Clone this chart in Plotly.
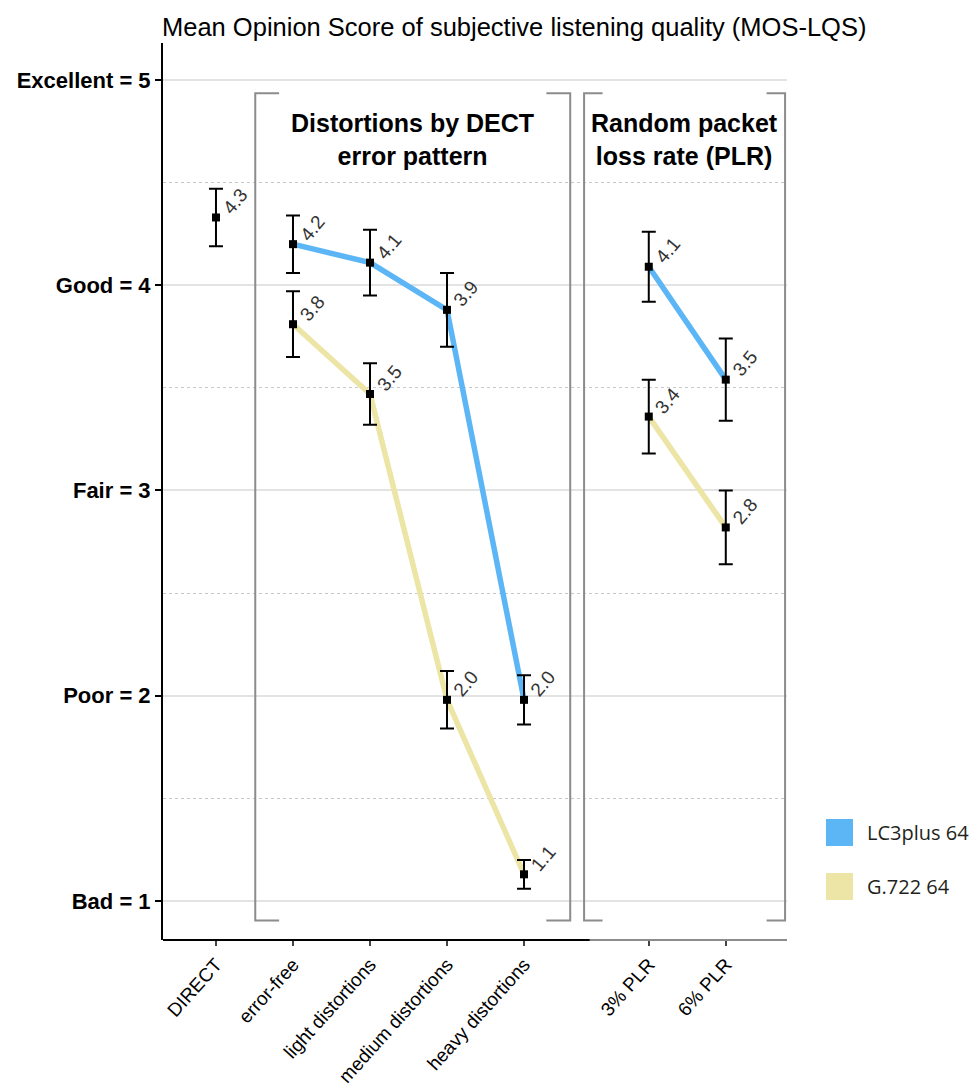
import plotly.graph_objects as go

# Conditions on the x axis
conditions = ["DIRECT", "error-free", "light distortions", "medium distortions",
              "heavy distortions", "3% PLR", "6% PLR"]
dect_conditions = ["error-free", "light distortions", "medium distortions", "heavy distortions"]
plr_conditions = ["3% PLR", "6% PLR"]

# Reference (direct) condition
direct_mos = 4.33
direct_ci = 0.14

# LC3plus 64 kbit/s
lc3_mos = [4.20, 4.11, 3.88, 1.98, 4.09, 3.54]
lc3_ci = [0.14, 0.16, 0.18, 0.12, 0.17, 0.20]

# G.722 64 kbit/s
g722_mos = [3.81, 3.47, 1.98, 1.13, 3.36, 2.82]
g722_ci = [0.16, 0.15, 0.14, 0.07, 0.18, 0.18]

score_labels = ["Bad = 1", "Poor = 2", "Fair = 3", "Good = 4", "Excellent = 5"]
score_values = [1, 2, 3, 4, 5]

BLUE = "#5cb6f6"
YELLOW = "#ece5a6"
BRACKET = "#8c8c8c"

# x positions: one slot per condition, with a gap before the PLR group
GROUP_GAP = 0.62
xpos = {}
for i, c in enumerate(conditions):
    xpos[c] = i + (GROUP_GAP if c in plr_conditions else 0)

series_conds = dect_conditions + plr_conditions

fig = go.Figure()


def add_series(mos, color):
    # lines within each group (not connected across groups)
    for grp in (dect_conditions, plr_conditions):
        xs = [xpos[c] for c in grp]
        ys = [mos[series_conds.index(c)] for c in grp]
        fig.add_trace(go.Scatter(x=xs, y=ys, mode="lines",
                                 line=dict(color=color, width=5.5),
                                 showlegend=False, hoverinfo="skip"))


add_series(lc3_mos, BLUE)
add_series(g722_mos, YELLOW)

# all means with confidence intervals
all_x = [xpos["DIRECT"]] + [xpos[c] for c in series_conds] * 2
all_y = [direct_mos] + lc3_mos + g722_mos
all_e = [direct_ci] + lc3_ci + g722_ci
fig.add_trace(go.Scatter(
    x=all_x, y=all_y, mode="markers",
    marker=dict(symbol="square", size=8, color="black"),
    error_y=dict(type="data", array=all_e, visible=True,
                 color="black", thickness=2, width=7),
    showlegend=False))

# value labels
for x, y in zip(all_x, all_y):
    fig.add_annotation(x=x, y=y, text=f"{y:.1f}", showarrow=False,
                       textangle=-50, xshift=19, yshift=16,
                       font=dict(family="Liberation Sans", size=19, color="#333333"))

# group brackets
def bracket(x0, x1, y0, y1, tick):
    path = (f"M {x0 + tick},{y1} L {x0},{y1} L {x0},{y0} L {x0 + tick},{y0} "
            f"M {x1 - tick},{y1} L {x1},{y1} L {x1},{y0} L {x1 - tick},{y0}")
    fig.add_shape(type="path", path=path, xref="x", yref="y",
                  line=dict(color=BRACKET, width=2), layer="above")

bracket(xpos["error-free"] - 0.49, xpos["heavy distortions"] + 0.60, 0.905, 4.935, 0.31)
bracket(xpos["3% PLR"] - 0.84, xpos["6% PLR"] + 0.77, 0.905, 4.935, 0.24)

fig.add_annotation(x=(xpos["error-free"] - 0.49 + xpos["heavy distortions"] + 0.60) / 2,
                   y=4.71, text="<b>Distortions by DECT<br>error pattern</b>",
                   showarrow=False, align="center",
                   font=dict(family="Liberation Sans", size=25, color="black"))
fig.add_annotation(x=(xpos["3% PLR"] - 0.84 + xpos["6% PLR"] + 0.77) / 2,
                   y=4.71, text="<b>Random packet<br>loss rate (PLR)</b>",
                   showarrow=False, align="center",
                   font=dict(family="Liberation Sans", size=25, color="black"))

# x axis baseline
fig.add_shape(type="line", xref="paper", yref="paper", x0=0, x1=0.684, y0=0, y1=0,
              line=dict(color="black", width=2))
fig.add_shape(type="line", xref="paper", yref="paper", x0=0.684, x1=1, y0=0, y1=0,
              line=dict(color="#666666", width=1.5))

# legend
legend_items = [("LC3plus 64", BLUE), ("G.722 64", YELLOW)]
for i, (name, color) in enumerate(legend_items):
    top = 819 + i * 54
    fig.add_shape(type="rect", xref="paper", yref="paper",
                  x0=(826 - 163) / 624, x1=(853 - 163) / 624,
                  y0=(940 - top - 27) / 897, y1=(940 - top) / 897,
                  line=dict(width=0), fillcolor=color)
    fig.add_annotation(xref="paper", yref="paper", x=(865 - 163) / 624,
                       y=(940 - top - 13.5) / 897, text=name, showarrow=False,
                       xanchor="left", yanchor="middle",
                       font=dict(family="Open Sans", size=20, color="#231f20"))

fig.update_layout(
    width=973, height=1086,
    margin=dict(l=163, r=186, t=43, b=146),
    paper_bgcolor="white", plot_bgcolor="white",
    title=dict(text="Mean Opinion Score of subjective listening quality (MOS-LQS)",
               x=162 / 973, xanchor="left", xref="container",
               y=1 - 27 / 1086, yanchor="middle", yref="container",
               font=dict(family="Liberation Sans", size=25.5, color="black")),
    showlegend=False,
)

fig.update_xaxes(
    range=[-0.688, 7.415], automargin=False,
    tickvals=[xpos[c] for c in conditions], ticktext=conditions,
    tickangle=-48, ticks="outside", ticklen=5, tickwidth=1.5, tickcolor="#444444",
    tickfont=dict(family="Liberation Sans", size=19, color="black"),
    showgrid=False, zeroline=False, showline=False,
)
fig.update_yaxes(
    range=[0.81, 5.18], automargin=False,
    tickvals=score_values, ticktext=score_labels,
    ticks="outside", ticklen=6, tickwidth=1.5, tickcolor="black",
    tickfont=dict(family="Liberation Sans", size=22, color="black", weight="bold"),
    showgrid=True, gridcolor="#e3e3e3", gridwidth=2,
    minor=dict(tickvals=[1.5, 2.5, 3.5, 4.5], showgrid=True, gridcolor="#c9c9c9",
               griddash="dot", gridwidth=1, ticklen=0),
    zeroline=False, showline=True, linecolor="black", linewidth=2,
)

fig.write_html("out.html")
